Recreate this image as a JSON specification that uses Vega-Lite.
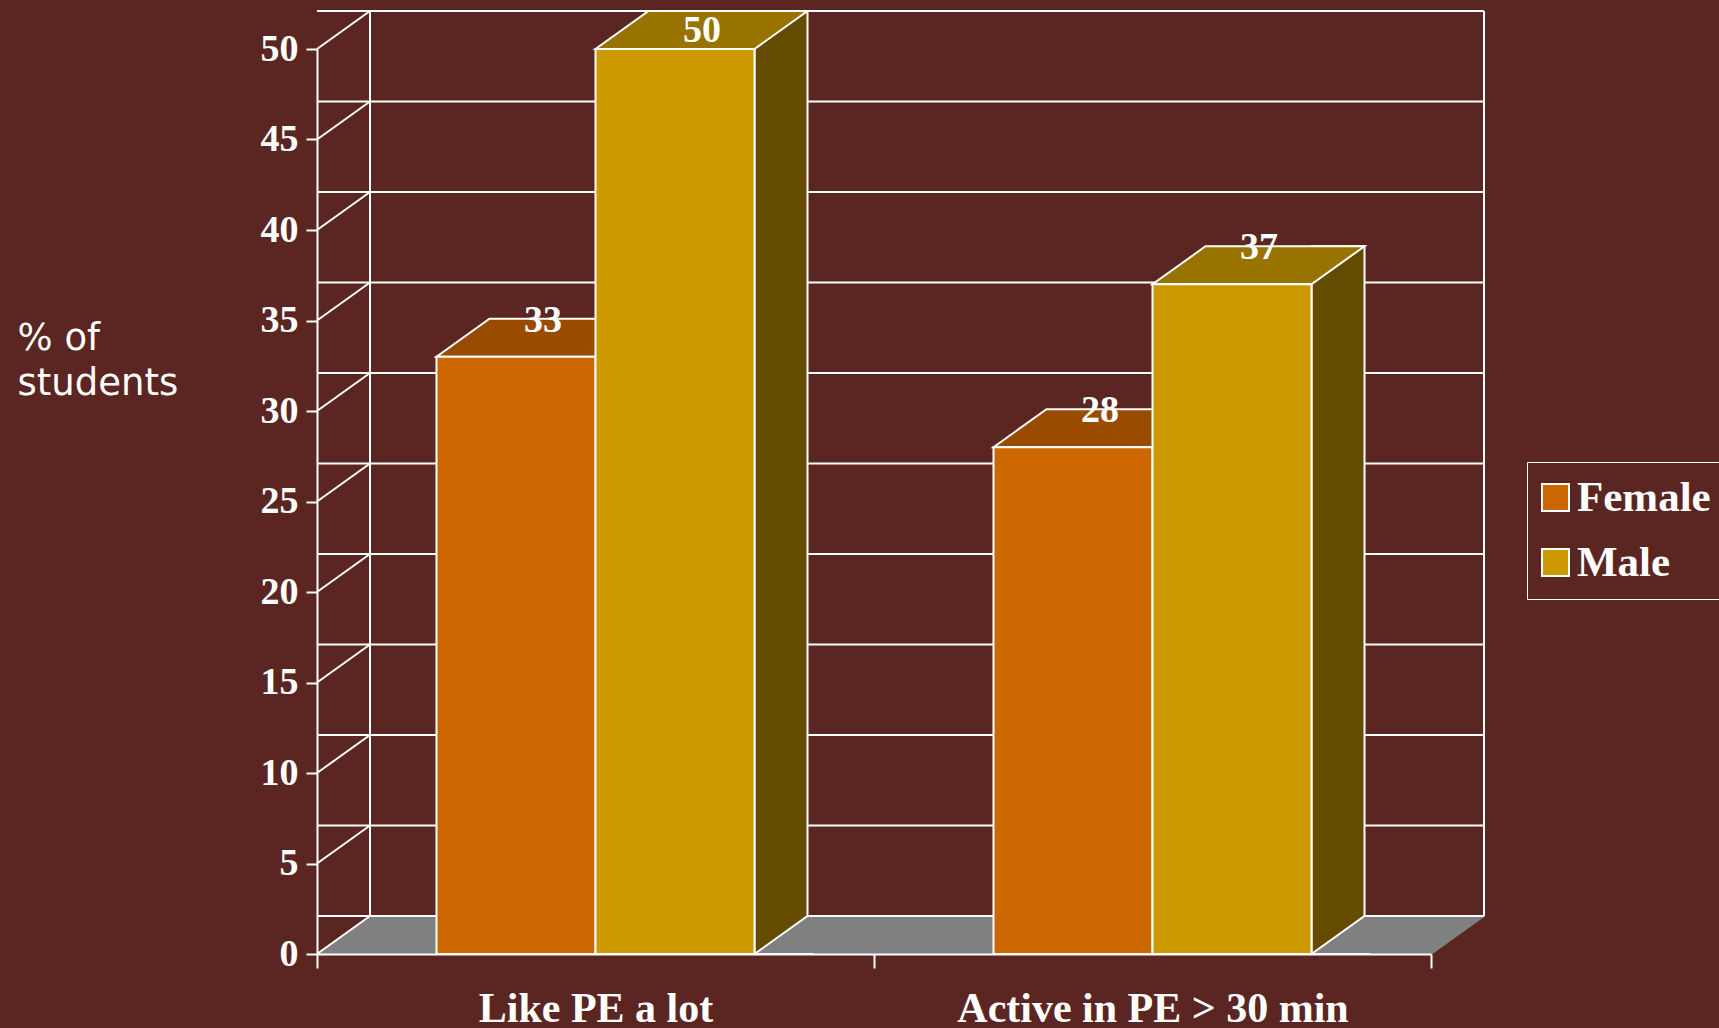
{
  "$schema": "https://vega.github.io/schema/vega-lite/v6.json",
  "width": 1114,
  "height": 905,
  "autosize": {"type": "none"},
  "padding": {"left": 317, "top": 49, "right": 288, "bottom": 74},
  "background": "#5B2621",
  "config": {
    "view": {"stroke": null},
    "axis": {"disable": false},
    "legend": {"disable": false}
  },
  "datasets": {
    "bars": [
      {"category": "Like PE a lot", "sex": "Female", "value": 33},
      {"category": "Like PE a lot", "sex": "Male", "value": 50},
      {"category": "Active in PE > 30 min", "sex": "Female", "value": 28},
      {"category": "Active in PE > 30 min", "sex": "Male", "value": 37}
    ],
    "ticks": [
      {"tick": 0}, {"tick": 5}, {"tick": 10}, {"tick": 15}, {"tick": 20}, {"tick": 25},
      {"tick": 30}, {"tick": 35}, {"tick": 40}, {"tick": 45}, {"tick": 50}
    ]
  },
  "layer": [
    {
      "data": {"name": "bars"},
      "mark": {"type": "bar", "stroke": "white", "strokeWidth": 2, "opacity": 1},
      "encoding": {
        "x": {"field": "category", "type": "nominal", "sort": ["Like PE a lot", "Active in PE > 30 min"], "scale": {"paddingInner": 0, "paddingOuter": 0},
          "axis": {"disable": false, "title": null, "zindex": 1, "tickBand": "extent", "tickSize": 14, "tickWidth": 2, "tickColor": "white", "domainColor": "white", "domainWidth": 2, "labelAngle": 0, "labelLimit": 700, "labelFont": "Liberation Serif", "labelFontSize": 42, "labelFontWeight": "bold", "labelColor": "white", "labelPadding": 20}},
        "xOffset": {"field": "sex", "type": "nominal", "scale": {"paddingInner": 0, "paddingOuter": 0.7516}},
        "y": {"field": "value", "type": "quantitative", "scale": {"domain": [0, 50], "nice": false},
          "axis": {"disable": false, "title": ["% of", "students"], "values": [0, 5, 10, 15, 20, 25, 30, 35, 40, 45, 50], "zindex": 1, "grid": false, "tickSize": 11, "tickWidth": 2, "tickColor": "white", "domainColor": "white", "domainWidth": 2, "labelFont": "Liberation Serif", "labelFontSize": 38, "labelFontWeight": "bold", "labelColor": "white", "labelPadding": 8,
            "titleAngle": 0, "titleAlign": "left", "titleBaseline": "alphabetic", "titleX": -300, "titleY": 300, "titleFont": "DejaVu Sans", "titleFontSize": 37, "titleFontWeight": "normal", "titleColor": "white", "titleLineHeight": 45, "titleLimit": 400}},
        "color": {"field": "sex", "type": "nominal", "scale": {"domain": ["Female", "Male"], "range": ["#CC6600", "#CC9900"]},
          "legend": {"disable": false, "title": null, "orient": "none", "legendX": 1210, "legendY": 413, "symbolType": "square", "symbolSize": 729, "symbolStrokeColor": "white", "symbolStrokeWidth": 2, "symbolOffset": -7, "labelFont": "Liberation Serif", "labelFontSize": 43, "labelFontWeight": "bold", "labelColor": "white", "labelOffset": 0, "labelLimit": 400, "strokeColor": "white", "padding": 14, "rowPadding": 21}},
        "opacity": {"value": 0}
      }
    },
    {
      "data": {"name": "bars"},
      "transform": [{"filter": "datum.sex == 'Female'"}],
      "mark": {"type": "point", "shape": "M-280,0 L280,0 L333,-38 L-227,-38 Z", "size": 4, "filled": true, "fill": "#808080", "opacity": 1, "strokeWidth": 0},
      "encoding": {
        "x": {"field": "category", "type": "nominal", "sort": ["Like PE a lot", "Active in PE > 30 min"]},
        "y": {"datum": 0, "type": "quantitative"}
      }
    },
    {
      "data": {"name": "ticks"},
      "mark": {"type": "rule", "color": "white", "strokeWidth": 2, "xOffset": 53, "x2Offset": 53, "yOffset": -38},
      "encoding": {
        "y": {"field": "tick", "type": "quantitative"}
      }
    },
    {
      "data": {"name": "ticks"},
      "transform": [{"filter": "datum.tick == 0"}],
      "mark": {"type": "rule", "color": "white", "strokeWidth": 2, "xOffset": 53, "yOffset": -38, "y2Offset": -38},
      "encoding": {
        "x": {"value": 0},
        "y": {"datum": 0, "type": "quantitative"},
        "y2": {"datum": 50}
      }
    },
    {
      "data": {"name": "ticks"},
      "transform": [{"filter": "datum.tick == 0"}],
      "mark": {"type": "rule", "color": "white", "strokeWidth": 2, "xOffset": 53, "yOffset": -38, "y2Offset": -38},
      "encoding": {
        "x": {"value": "width"},
        "y": {"datum": 0, "type": "quantitative"},
        "y2": {"datum": 50}
      }
    },
    {
      "data": {"name": "ticks"},
      "mark": {"type": "point", "shape": "M0,0 L53,-38", "size": 4, "filled": false, "stroke": "white", "strokeWidth": 2, "opacity": 1},
      "encoding": {
        "x": {"value": 0},
        "y": {"field": "tick", "type": "quantitative"}
      }
    },
    {
      "data": {"name": "bars"},
      "transform": [{"filter": "datum.sex == 'Male'"}],
      "mark": {"type": "bar", "width": 53, "xOffset": 185.5, "yOffset": -38, "fill": "#654B00", "stroke": "white", "strokeWidth": 2},
      "encoding": {
        "x": {"field": "category", "type": "nominal", "sort": ["Like PE a lot", "Active in PE > 30 min"]},
        "y": {"field": "value", "type": "quantitative"},
        "y2": {"datum": 0}
      }
    },
    {
      "data": {"name": "bars"},
      "transform": [{"filter": "datum.sex == 'Male'"}],
      "mark": {"type": "point", "shape": "M218,0 L159,0 L212,-38 L218,-38", "size": 4, "filled": true, "fill": "#808080", "stroke": "white", "strokeWidth": 2, "opacity": 1},
      "encoding": {
        "x": {"field": "category", "type": "nominal", "sort": ["Like PE a lot", "Active in PE > 30 min"]},
        "y": {"datum": 0, "type": "quantitative"}
      }
    },
    {
      "data": {"name": "bars"},
      "transform": [{"filter": "datum.sex == 'Female'"}],
      "mark": {"type": "point", "shape": "M-159,0 L0,0 L53,-38 L-106,-38 Z", "size": 4, "filled": true, "fill": "#994C00", "stroke": "white", "strokeWidth": 2, "opacity": 1},
      "encoding": {
        "x": {"field": "category", "type": "nominal", "sort": ["Like PE a lot", "Active in PE > 30 min"]},
        "y": {"field": "value", "type": "quantitative"}
      }
    },
    {
      "data": {"name": "bars"},
      "transform": [{"filter": "datum.sex == 'Male'"}],
      "mark": {"type": "point", "shape": "M0,0 L159,0 L212,-38 L53,-38 Z", "size": 4, "filled": true, "fill": "#997300", "stroke": "white", "strokeWidth": 2, "opacity": 1},
      "encoding": {
        "x": {"field": "category", "type": "nominal", "sort": ["Like PE a lot", "Active in PE > 30 min"]},
        "y": {"field": "value", "type": "quantitative"}
      }
    },
    {
      "data": {"name": "bars"},
      "mark": {"type": "bar", "stroke": "white", "strokeWidth": 2, "opacity": 1},
      "encoding": {
        "x": {"field": "category", "type": "nominal", "sort": ["Like PE a lot", "Active in PE > 30 min"]},
        "xOffset": {"field": "sex", "type": "nominal"},
        "y": {"field": "value", "type": "quantitative"},
        "color": {"field": "sex", "type": "nominal"}
      }
    },
    {
      "data": {"name": "bars"},
      "mark": {"type": "text", "dx": 27, "dy": {"expr": "datum.value >= 48 ? -18 : -36"}, "align": "center", "baseline": "middle", "font": "Liberation Serif", "fontSize": 38, "fontWeight": "bold", "color": "white"},
      "encoding": {
        "x": {"field": "category", "type": "nominal", "sort": ["Like PE a lot", "Active in PE > 30 min"]},
        "xOffset": {"field": "sex", "type": "nominal"},
        "y": {"field": "value", "type": "quantitative"},
        "text": {"field": "value", "type": "quantitative"}
      }
    }
  ]
}
